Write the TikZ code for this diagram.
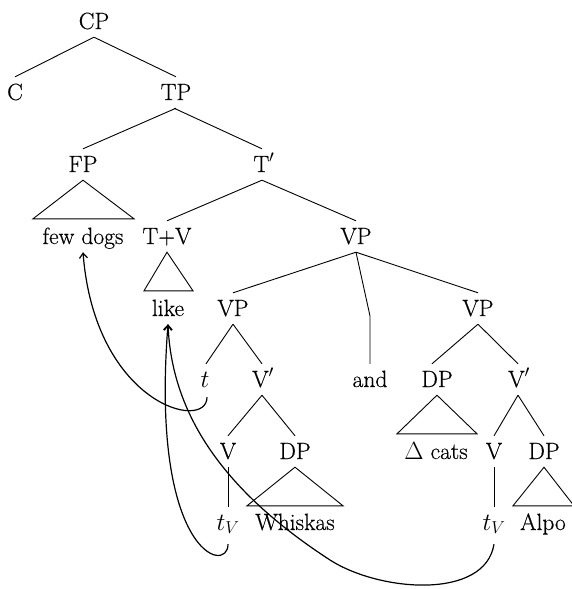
\documentclass[tikz,border=0pt]{standalone}
\usepackage{fontspec}
\setmainfont{Latin Modern Roman}[FakeBold=0.4]
\usetikzlibrary{arrows.meta}
\begin{document}
\begin{tikzpicture}[x=1pt,y=-1pt,
  lbl/.style={anchor=base,font=\fontsize{23.5}{28}\selectfont,text height=18pt,text depth=3pt,inner xsep=1pt,inner ysep=5pt},
  br/.style={line width=0.9pt},
  mv/.style={line width=1.2pt,-{Straight Barb[length=5pt,width=8pt]}}]
\useasboundingbox (0,0) rectangle (572,589);
% nodes
\node[lbl] (CP) at (94,29) {CP};
\node[lbl] (C) at (15,100) {C};
\node[lbl] (TP) at (176,100) {TP};
\node[lbl] (FP) at (83,172) {FP};
\node[lbl] (Tb) at (264,172) {T$'$};
\node[lbl] (fd) at (83,244) {few dogs};
\node[lbl] (TV) at (167,244) {T+V};
\node[lbl] (VP) at (356,244) {VP};
\node[lbl] (like) at (168,316) {like};
\node[lbl] (VPa) at (233,316) {VP};
\node[lbl] (VPb) at (478,316) {VP};
\node[lbl] (t) at (205,387) {$t$};
\node[lbl] (Vpa) at (263,387) {V$'$};
\node[lbl] (and) at (370,387) {and};
\node[lbl] (DPc) at (437,387) {DP};
\node[lbl] (Vpb) at (519,387) {V$'$};
\node[lbl] (cats) at (436,459) {$\Delta$ cats};
\node[lbl] (Va) at (228,459) {V};
\node[lbl] (DPa) at (295,459) {DP};
\node[lbl] (Vb) at (494,459) {V};
\node[lbl] (DPb) at (544,459) {DP};
\node[lbl] (tVa) at (228,530) {$t_V$};
\node[lbl] (Wh) at (295,530) {Whiskas};
\node[lbl] (tVb) at (494,530) {$t_V$};
\node[lbl] (Alpo) at (543,530) {Alpo};
\coordinate (andk) at (370,316);
% branches
\draw[br] (CP.south) -- (C.north);
\draw[br] (CP.south) -- (TP.north);
\draw[br] (TP.south) -- (FP.north);
\draw[br] ([xshift=-2pt]TP.south) -- ([xshift=-2pt]Tb.north);
\draw[br] ([xshift=-2pt]Tb.south) -- (TV.north);
\draw[br] ([xshift=-2pt]Tb.south) -- (VP.north);
\draw[br] (VP.south) -- (VPa.north);
\draw[br] (VP.south) -- (andk) -- (and.north);
\draw[br] (VP.south) -- (VPb.north);
\draw[br] (VPa.south) -- ([xshift=1pt]t.north);
\draw[br] (VPa.south) -- ([xshift=-1pt]Vpa.north);
\draw[br] (VPb.south) -- ([xshift=-5pt]DPc.north);
\draw[br] (VPb.south) -- ([xshift=-1pt]Vpb.north);
\draw[br] ([xshift=-1pt]Vpa.south) -- (Va.north);
\draw[br] ([xshift=-1pt]Vpa.south) -- (DPa.north);
\draw[br] ([xshift=-1pt]Vpb.south) -- (Vb.north);
\draw[br] ([xshift=-1pt]Vpb.south) -- (DPb.north);
\draw[br] (Va.south) -- (tVa.north);
\draw[br] (Vb.south) -- (tVb.north);
% triangles
\draw[br] (FP.south) -- ([xshift=-50pt,yshift=2pt]fd.north) -- ([xshift=51pt,yshift=2pt]fd.north) -- cycle;
\draw[br] (TV.south) -- ([xshift=-24pt,yshift=2pt]like.north) -- ([xshift=25pt,yshift=2pt]like.north) -- cycle;
\draw[br] (DPc.south) -- ([xshift=-39pt,yshift=2pt]cats.north) -- ([xshift=41pt,yshift=2pt]cats.north) -- cycle;
\draw[br] (DPa.south) -- ([xshift=-48pt,yshift=1pt]Wh.north) -- ([xshift=48pt,yshift=1pt]Wh.north) -- cycle;
\draw[br] (DPb.south) -- ([xshift=-30pt,yshift=1pt]Alpo.north) -- ([xshift=31pt,yshift=1pt]Alpo.north) -- cycle;
% movement arrows
\draw[mv] ([xshift=2pt,yshift=-2pt]t.south) .. controls (207,432) and (95,405) .. (fd.south);
\draw[mv] ([yshift=-6pt]tVa.south) .. controls (228,575) and (150,555) .. (like.south);
\draw[mv] ([yshift=-6pt]tVb.south) .. controls (485,600) and (380,592) .. (330,560)
  .. controls (230,495) and (172,420) .. (like.south);
\end{tikzpicture}
\end{document}
